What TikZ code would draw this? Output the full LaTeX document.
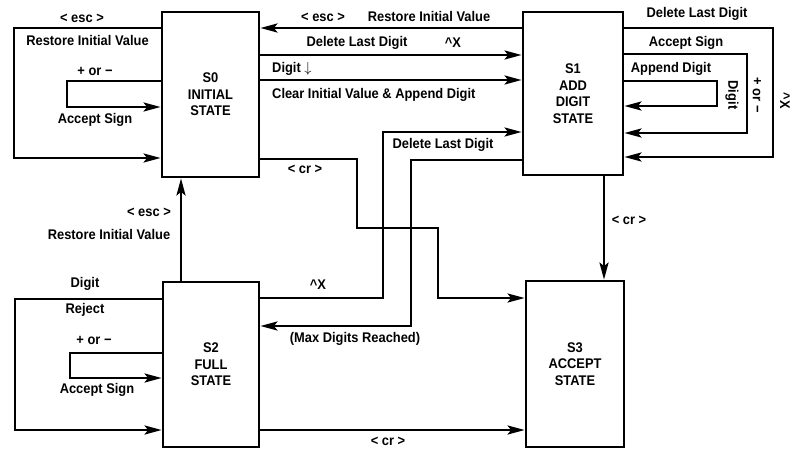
\documentclass[tikz,border=0pt]{standalone}
\usepackage{fontspec}
\setmainfont{Liberation Sans}[FakeStretch=0.92]
\usetikzlibrary{arrows.meta}
\begin{document}
\begin{tikzpicture}[x=1pt,y=-1pt,
  font=\fontsize{14}{16.5}\selectfont\bfseries,
  state/.style={draw, line width=2.8pt, align=center, inner sep=0pt},
  conn/.style={line width=2.6pt},
  arr/.style={conn, -{Stealth[length=17pt,width=9pt,inset=3.5pt]}},
  lbl/.style={inner sep=0pt}]
\useasboundingbox (0,0) rectangle (799,448);
% states
\node[state, minimum width=97pt, minimum height=165pt] (s0) at (210.5,94.5) {S0\\INITIAL\\STATE};
\node[state, minimum width=100pt, minimum height=163pt] (s1) at (573,93.5) {S1\\ADD\\DIGIT\\STATE};
\node[state, minimum width=96pt, minimum height=165pt] (s2) at (211,364.5) {S2\\FULL\\STATE};
\node[state, minimum width=98pt, minimum height=166pt] (s3) at (575,364) {S3\\ACCEPT\\STATE};
% S0 self loops
\draw[arr] (s0.west |- 0,28) -- (14,28) |- (s0.west |- 0,158);
\draw[arr] (s0.west |- 0,81) -- (67,81) |- (s0.west |- 0,107);
\node[lbl] (a1) at (82,18) {< esc >};
\node[lbl] (a2) at (87.5,40) {Restore Initial Value};
\node[lbl] (a3) at (95,71) {+ or −};
\node[lbl] (a4) at (95,120) {Accept Sign};
% S0 <-> S1
\draw[arr] (s1.west |- 0,28) -- (s0.east |- 0,28);
\node[lbl] (b1) at (323,17) {< esc >};
\node[lbl] (b2) at (429,16) {Restore Initial Value};
\draw[arr] (s0.east |- 0,55) -- (s1.west |- 0,55);
\node[lbl] (b3) at (357,43) {Delete Last Digit};
\node[lbl] (b4) at (453,43) {\textasciicircum X};
\draw[arr] (s0.east |- 0,80) -- (s1.west |- 0,80);
\node[lbl, anchor=west] (b5) at (272,69) {Digit $\downarrow$};
\node[lbl, anchor=west] (b6) at (272,95) {Clear Initial Value \& Append Digit};
% S2 -> S1
\draw[arr] (s2.east |- 0,298) -- (383,298) |- (s1.west |- 0,132);
\node[lbl] (c1) at (443,145) {Delete Last Digit};
\node[lbl] (c2) at (318,285) {\textasciicircum X};
% S1 -> S2
\draw[arr] (s1.west |- 0,160) -- (411,160) |- (s2.east |- 0,326);
\node[lbl] (c3) at (355,339) {(Max Digits Reached)};
% S0 -> S3
\draw[arr] (s0.east |- 0,159) -- (357,159) -- (357,228) -- (438,228) |- (s3.west |- 0,298);
\node[lbl] (c4) at (305,169) {< cr >};
% S1 self loops
\draw[arr] (s1.east |- 0,28) -- (773,28) |- (s1.east |- 0,157);
\draw[arr] (s1.east |- 0,54) -- (747,54) |- (s1.east |- 0,133);
\draw[arr] (s1.east |- 0,81) -- (717,81) |- (s1.east |- 0,106);
\node[lbl] (d1) at (697,14) {Delete Last Digit};
\node[lbl] (d2) at (686,43) {Accept Sign};
\node[lbl] (d3) at (671,69) {Append Digit};
\node[lbl, rotate=-90] (d4) at (732,95) {Digit};
\node[lbl, rotate=-90] (d5) at (757,95) {+ or −};
\node[lbl, rotate=-90] (d6) at (785,101) {\textasciicircum X};
% S1 -> S3
\draw[arr] (s1.south -| 604,0) -- (s3.north -| 604,0);
\node[lbl] (e1) at (629,220) {< cr >};
% S2 -> S0
\draw[arr] (s2.north -| 181,0) -- (s0.south -| 181,0);
\node[lbl] (f1) at (149,212) {< esc >};
\node[lbl] (f2) at (109,234) {Restore Initial Value};
% S2 self loops
\draw[arr] (s2.west |- 0,299) -- (15,299) |- (s2.west |- 0,430);
\draw[arr] (s2.west |- 0,353) -- (70,353) |- (s2.west |- 0,378);
\node[lbl] (g1) at (85,284) {Digit};
\node[lbl] (g2) at (85,310) {Reject};
\node[lbl] (g3) at (94,340) {+ or −};
\node[lbl] (g4) at (97,390) {Accept Sign};
% S2 -> S3
\draw[arr] (s2.east |- 0,430) -- (s3.west |- 0,430);
\node[lbl] (h1) at (388,441) {< cr >};
\end{tikzpicture}
\end{document}
